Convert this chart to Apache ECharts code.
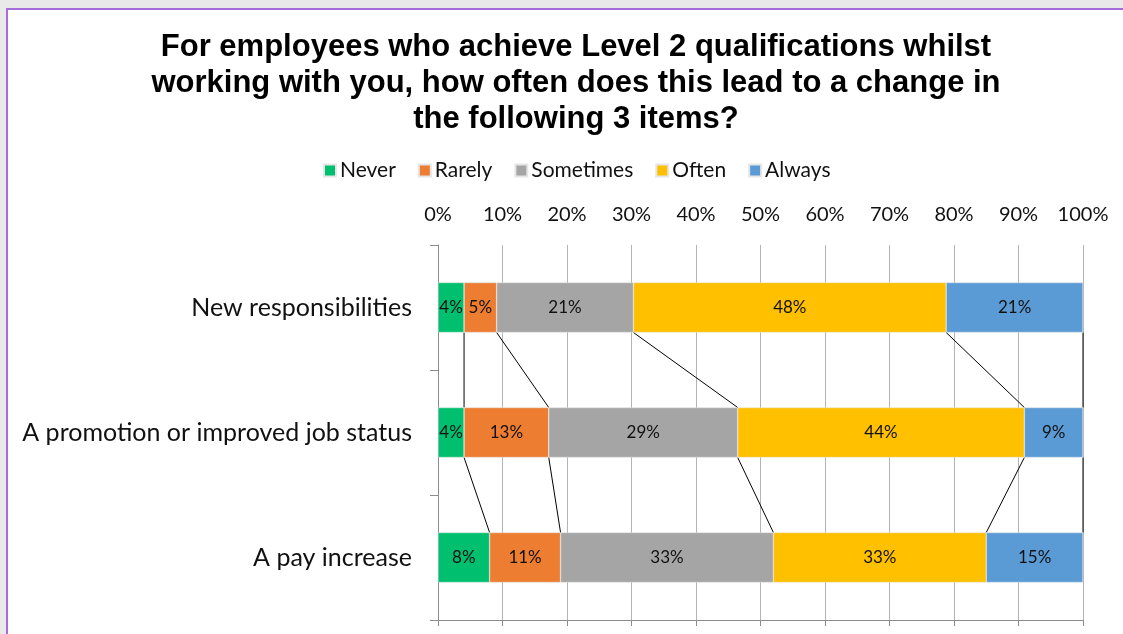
<!DOCTYPE html>
<html>
<head>
<meta charset="utf-8">
<title>Level 2 qualifications</title>
<script src="https://cdn.jsdelivr.net/npm/echarts@6/dist/echarts.min.js"></script>
<style>
  html, body { margin: 0; padding: 0; background: #e8e9e8; }
  #chart { width: 1123px; height: 634px; }
</style>
</head>
<body>
<div id="chart"></div>
<script>
// Survey answers, percent of employers per item
const categories = ['New responsibilities', 'A promotion or improved job status', 'A pay increase'];
const seriesNames = ['Never', 'Rarely', 'Sometimes', 'Often', 'Always'];
const never = [4, 4, 8];
const rarely = [5, 13, 11];
const sometimes = [21, 29, 33];
const often = [48, 44, 33];
const always = [21, 9, 15];
const xTicks = [0, 10, 20, 30, 40, 50, 60, 70, 80, 90, 100];
const colors = ['#00c070', '#ed7d31', '#a5a5a5', '#ffc000', '#5b9bd5'];

const raw = [never, rarely, sometimes, often, always];
const BAR_H = 50;

// 100% stacked: each row is scaled to its own total
const rowTotals = categories.map((_, i) => raw.reduce((s, arr) => s + arr[i], 0));
const shares = raw.map(arr => arr.map((v, i) => v / rowTotals[i] * 100));

// right edge of every segment, per row
const cumEdges = categories.map((_, i) => {
  let acc = 0;
  return shares.map(arr => (acc += arr[i]));
});

// series lines joining matching segment edges of neighbouring bars
const connectorData = [];
for (let i = 0; i < categories.length - 1; i++) {
  for (let k = 0; k < seriesNames.length; k++) {
    connectorData.push([cumEdges[i][k], cumEdges[i + 1][k], i]);
  }
}

const labelFont = 'Lato, "Open Sans", "DejaVu Sans", sans-serif';

const barSeries = seriesNames.map((name, k) => ({
  name: name,
  type: 'bar',
  stack: 'total',
  barWidth: BAR_H,
  xAxisIndex: 0,
  itemStyle: { color: colors[k], borderColor: '#e6e6e6', borderWidth: 0.5 },
  label: {
    show: true,
    position: 'inside',
    color: '#111',
    fontFamily: labelFont,
    fontSize: 17,
    formatter: p => raw[k][p.dataIndex] + '%'
  },
  emphasis: { disabled: true },
  data: shares[k]
}));

const connectorSeries = {
  type: 'custom',
  xAxisIndex: 0,
  silent: true,
  z: 1,
  encode: { x: [0, 1], y: 2 },
  renderItem: (params, api) => {
    const row = api.value(2);
    const p1 = api.coord([api.value(0), row]);
    const p2 = api.coord([api.value(1), row + 1]);
    return {
      type: 'line',
      shape: { x1: p1[0], y1: p1[1] + BAR_H / 2, x2: p2[0], y2: p2[1] - BAR_H / 2 },
      style: { stroke: '#000', lineWidth: 1 }
    };
  },
  data: connectorData
};

const chart = echarts.init(document.getElementById('chart'));
chart.setOption({
  backgroundColor: '#e8e9e8',
  animation: false,
  graphic: [{
    type: 'rect',
    z: -10,
    silent: true,
    shape: { x: 7, y: 9, width: 1140, height: 660 },
    style: { fill: '#ffffff', stroke: '#a76bdb', lineWidth: 2 }
  }],
  title: {
    text: 'For employees who achieve Level 2 qualifications whilst\nworking with you, how often does this lead to a change in\nthe following 3 items?',
    left: 571,
    top: 24,
    textAlign: 'center',
    textStyle: {
      fontFamily: '"Liberation Sans", Arial, sans-serif',
      fontWeight: 'bold',
      fontSize: 31,
      lineHeight: 36,
      color: '#000'
    }
  },
  legend: {
    data: seriesNames,
    top: 155,
    left: 318,
    itemWidth: 12,
    itemHeight: 12,
    itemGap: 22,
    icon: 'rect',
    textStyle: { fontFamily: labelFont, fontSize: 21, color: '#111', padding: [0, 0, 0, -1] }
  },
  grid: { left: 438, right: 40, top: 245, bottom: 14, containLabel: false },
  xAxis: [{
    type: 'value',
    position: 'top',
    min: 0,
    max: 100,
    interval: 10,
    axisLine: { show: false },
    axisTick: { show: false },
    axisLabel: {
      margin: 20,
      fontFamily: labelFont,
      fontSize: 20,
      color: '#111',
      formatter: v => (xTicks.includes(v) ? v + '%' : '')
    },
    splitLine: { show: true, lineStyle: { color: '#b4b4b4', width: 1 } }
  }, {
    type: 'value',
    position: 'bottom',
    min: 0,
    max: 100,
    interval: 10,
    axisLine: { show: true, lineStyle: { color: '#8c8c8c' } },
    axisTick: { show: true, length: 6, inside: false, lineStyle: { color: '#8c8c8c' } },
    axisLabel: { show: false },
    splitLine: { show: false }
  }],
  yAxis: {
    type: 'category',
    inverse: true,
    data: categories,
    axisLine: { show: true, lineStyle: { color: '#8c8c8c' } },
    axisTick: { show: true, length: 8, lineStyle: { color: '#8c8c8c' } },
    axisLabel: { margin: 26, fontFamily: labelFont, fontSize: 25, color: '#111' }
  },
  series: [...barSeries, connectorSeries]
});
</script>
</body>
</html>
